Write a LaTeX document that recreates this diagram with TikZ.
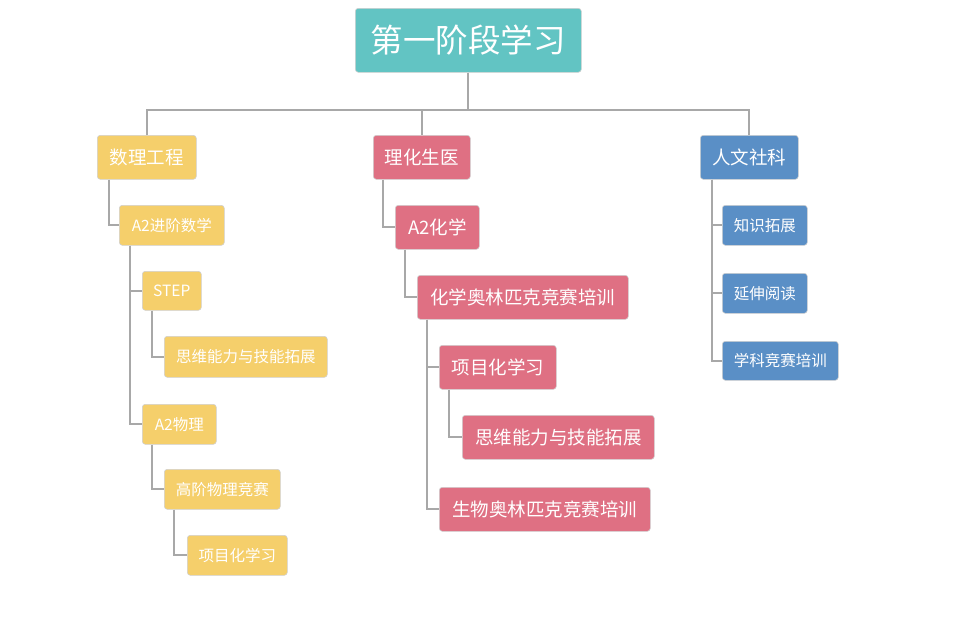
\documentclass[tikz,border=0pt]{standalone}
\usepackage{fontspec}
\setmainfont{Noto Sans CJK SC}
\definecolor{cteal}{HTML}{62C4C3}
\definecolor{cyel}{HTML}{F5CF6B}
\definecolor{cred}{HTML}{DF7083}
\definecolor{cblue}{HTML}{5A8FC6}
\definecolor{cline}{HTML}{A8A8A8}
\definecolor{cborder}{HTML}{D0D0D0}
\tikzset{
  box/.style={draw=cborder, line width=0.6pt, rounded corners=3pt, text=white,
    inner sep=0pt, anchor=north west, align=center},
  conn/.style={draw=cline, line width=2pt},
  big/.style={font=\fontsize{32.5}{36}\selectfont},
  mid/.style={font=\fontsize{18.5}{22}\selectfont},
  sml/.style={font=\fontsize{15.5}{18}\selectfont},
}
\begin{document}
\begin{tikzpicture}[x=1pt,y=-1pt]
\useasboundingbox (0,0) rectangle (962,632);
% nodes
\node[box, fill=cteal, big, minimum width=226pt, minimum height=64pt] (top) at (355,8) {第一阶段学习};
\node[box, fill=cyel, mid, minimum width=99pt, minimum height=44pt] (a) at (97,135) {数理工程};
\node[box, fill=cred, mid, minimum width=97pt, minimum height=44pt] (b) at (373,135) {理化生医};
\node[box, fill=cblue, mid, minimum width=98pt, minimum height=44pt] (c) at (700,135) {人文社科};
% left column
\node[box, fill=cyel, sml, minimum width=105pt, minimum height=40pt] (a1) at (119,205) {A2进阶数学};
\node[box, fill=cyel, sml, minimum width=59pt, minimum height=39pt] (a11) at (142,271) {STEP};
\node[box, fill=cyel, sml, minimum width=163pt, minimum height=41pt] (a111) at (164,336) {思维能力与技能拓展};
\node[box, fill=cyel, sml, minimum width=74pt, minimum height=40pt] (a12) at (142,404) {A2物理};
\node[box, fill=cyel, sml, minimum width=116pt, minimum height=40pt] (a121) at (164,469) {高阶物理竞赛};
\node[box, fill=cyel, sml, minimum width=100pt, minimum height=40pt] (a1211) at (187,535) {项目化学习};
% middle column
\node[box, fill=cred, mid, minimum width=84pt, minimum height=44pt] (b1) at (395,205) {A2化学};
\node[box, fill=cred, mid, minimum width=211pt, minimum height=44pt] (b11) at (417,275) {化学奥林匹克竞赛培训};
\node[box, fill=cred, mid, minimum width=117pt, minimum height=44pt] (b111) at (439,345) {项目化学习};
\node[box, fill=cred, mid, minimum width=192pt, minimum height=44pt] (b1111) at (462,415) {思维能力与技能拓展};
\node[box, fill=cred, mid, minimum width=211pt, minimum height=44pt] (b112) at (439,487) {生物奥林匹克竞赛培训};
% right column
\node[box, fill=cblue, sml, minimum width=85pt, minimum height=40pt] (c1) at (722,205) {知识拓展};
\node[box, fill=cblue, sml, minimum width=85pt, minimum height=40pt] (c2) at (722,273) {延伸阅读};
\node[box, fill=cblue, sml, minimum width=116pt, minimum height=39pt] (c3) at (722,341) {学科竞赛培训};
% top connectors
\coordinate (bus) at (469,110);
\draw[conn] (top.south) -- (top.south |- bus);
\draw[conn] (a.north) -- (a.north |- bus) -- (c.north |- bus) -- (c.north);
\draw[conn] (b.north) -- (b.north |- bus);
% tree connectors
\draw[conn] ([xshift=12pt]a.south west) |- (a1.west);
\draw[conn] ([xshift=11pt]a1.south west) |- (a11.west);
\draw[conn] ([xshift=11pt]a1.south west) |- (a12.west);
\draw[conn] ([xshift=10pt]a11.south west) |- (a111.west);
\draw[conn] ([xshift=10pt]a12.south west) |- (a121.west);
\draw[conn] ([xshift=10pt]a121.south west) |- (a1211.west);
\draw[conn] ([xshift=10pt]b.south west) |- (b1.west);
\draw[conn] ([xshift=10pt]b1.south west) |- (b11.west);
\draw[conn] ([xshift=10pt]b11.south west) |- (b111.west);
\draw[conn] ([xshift=10pt]b11.south west) |- (b112.west);
\draw[conn] ([xshift=10pt]b111.south west) |- (b1111.west);
\draw[conn] ([xshift=12pt]c.south west) |- (c1.west);
\draw[conn] ([xshift=12pt]c.south west) |- (c2.west);
\draw[conn] ([xshift=12pt]c.south west) |- (c3.west);
\end{tikzpicture}
\end{document}
